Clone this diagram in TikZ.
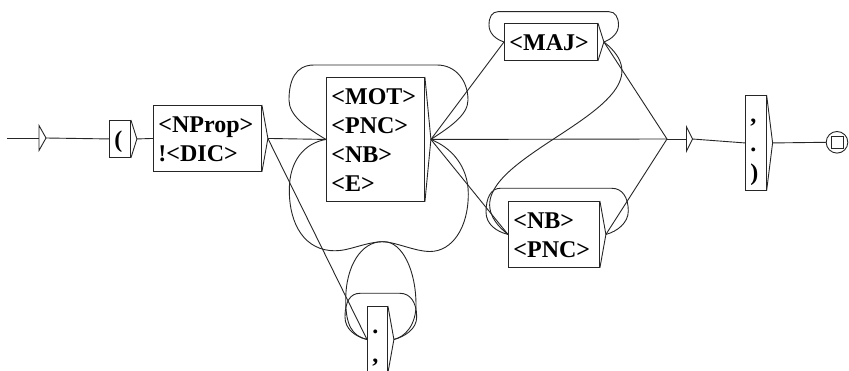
\documentclass[tikz,border=0pt]{standalone}
\usepackage{fontspec}
\setmainfont{Liberation Serif}
\newcommand\lnstrut{\rule[-5.7pt]{0pt}{29pt}}
\tikzset{
  ubox/.style={draw=black!85, line width=0.9pt, anchor=north west, inner xsep=5pt, inner ysep=4pt, align=left, font=\fontsize{24}{29}\selectfont\bfseries},
  conn/.style={draw=black!85, line width=0.9pt},
}
\begin{document}
\begin{tikzpicture}[x=1pt, y=-1pt]
\useasboundingbox (0,0) rectangle (849,371);
\fill[white] (0,0) rectangle (849,371);

% boxes
\node[ubox, text width=11pt] (par) at (109,120) {\lnstrut(};
\node[ubox, text width=98pt] (np) at (153,105) {\lnstrut<NProp>\\\lnstrut!<DIC>};
\node[ubox, text width=88pt] (mot) at (326,77) {\lnstrut<MOT>\\\lnstrut<PNC>\\\lnstrut<NB>\\\lnstrut<E>};
\node[ubox, text width=10pt] (dot) at (367,306) {\lnstrut.\\\lnstrut,};
\node[ubox, text width=83pt] (maj) at (504,23) {\lnstrut<MAJ>};
\node[ubox, text width=81pt] (nb) at (508,201) {\lnstrut<NB>\\\lnstrut<PNC>};
\node[ubox, text width=10.7pt] (pun) at (745,95) {\lnstrut,\\\lnstrut.\\\lnstrut)};
\node[draw=black!85, line width=0.9pt, circle, minimum size=21.6pt, inner sep=0pt] (fin) at (837,142.3) {};
\draw[conn] ([shift={(-6pt,-6pt)}]fin.center) rectangle ([shift={(6pt,6pt)}]fin.center);

% output triangles
\foreach \b in {par,np,mot,dot,maj,nb,pun}{
  \coordinate (\b T) at ([xshift=6pt]\b.east);
  \draw[conn, line join=miter] (\b.north east) -- (\b T) -- (\b.south east);
}

% initial state
\coordinate (i0) at (7,138);
\coordinate (iB) at (39,138);
\coordinate (iT) at (46,138);
\draw[conn] (39,125.5) -- (iT) -- (39,150.5) -- cycle;

% epsilon box
\coordinate (epsin) at (667,139);
\coordinate (epsB) at (686.5,139);
\coordinate (epsT) at (692.5,139);
\draw[conn] (686.5,127) -- (epsT) -- (686.5,151) -- cycle;

% straight transitions
\draw[conn] (i0) -- (iB);
\draw[conn] (iT) -- (par.west);
\draw[conn] (parT) -- (np.west);
\draw[conn] (npT) -- (mot.west);
\draw[conn] (npT) -- (dot.west);
\draw[conn] (motT) -- (maj.west);
\draw[conn] (motT) -- (nb.west);
\draw[conn] (motT) -- (epsin);
\draw[conn] (majT) -- (epsin);
\draw[conn] (nbT) -- (epsin);
\draw[conn] (epsin) -- (epsB);
\draw[conn] (epsT) -- (pun.west);
\draw[conn] (punT) -- (fin.west);

% self loops
\draw[conn] (motT) .. controls (450,127) and (468,115) .. (468,100)
  .. controls (468,81) and (456,65) .. (437,65) -- (314,65)
  .. controls (295,65) and (289,81) .. (289,100)
  .. controls (289,115) and (305,127) .. (mot.west);
\draw[conn] (majT) .. controls (612,39) and (618.5,33) .. (618.5,25)
  .. controls (618.5,17) and (615,11.7) .. (609,11.7) -- (498,11.7)
  .. controls (492,11.7) and (489,17) .. (489,25)
  .. controls (489,33) and (495,39) .. (maj.west);
\draw[conn] (nbT) .. controls (617,231.5) and (628.3,223) .. (628.3,211)
  .. controls (628.3,197) and (622,188.3) .. (612,188.3) -- (500,188.3)
  .. controls (491,188.3) and (486,198) .. (486,212)
  .. controls (486,224) and (496,231.5) .. (nb.west);
\draw[conn] (dotT) .. controls (405,336.5) and (416.7,329) .. (416.7,317)
  .. controls (416.7,302) and (410,293.3) .. (400,293.3) -- (360,293.3)
  .. controls (350,293.3) and (345,302) .. (345,317)
  .. controls (345,329) and (355,336.5) .. (dot.west);

% backward transitions
\draw[conn] (majT) .. controls (693,112) and (418,163) .. (nb.west);
\draw[conn] (motT) .. controls (450,147) and (468.3,165) .. (468.3,194)
  .. controls (468.3,228) and (452,251.5) .. (430,251.5)
  .. controls (415,251.5) and (395,241.7) .. (382,241.7)
  .. controls (362,241.7) and (345.7,265) .. (345.7,300)
  .. controls (345.7,325) and (352,336) .. (dot.west);
\draw[conn] (dotT) .. controls (405,337) and (416,325) .. (416,305)
  .. controls (416,270) and (402,241.7) .. (384,241.7)
  .. controls (366,241.7) and (350,250.8) .. (335,250.8)
  .. controls (305,250.8) and (289.3,225) .. (289.3,190)
  .. controls (289.3,160) and (305,143) .. (mot.west);
\end{tikzpicture}
\end{document}
